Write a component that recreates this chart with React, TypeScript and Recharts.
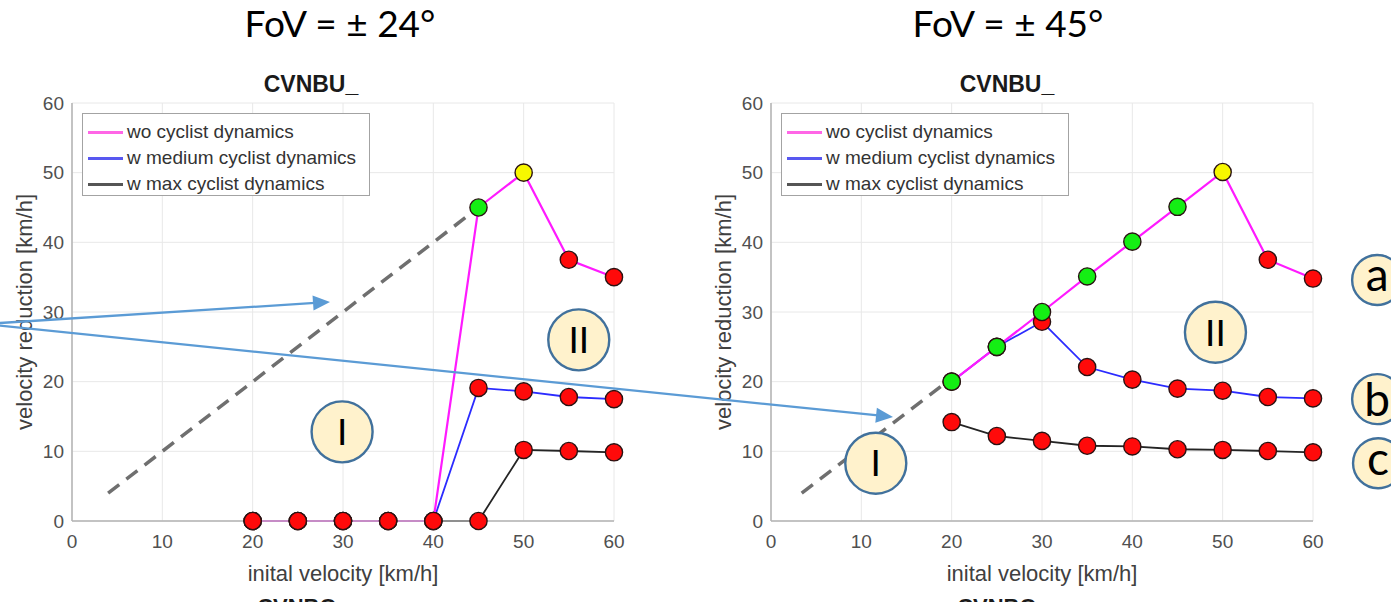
import React from 'react';
import { ComposedChart, Line, XAxis, YAxis, CartesianGrid, ReferenceLine, ReferenceDot } from 'recharts';

// ---------- data ----------
const velocities = [20, 25, 30, 35, 40, 45, 50, 55, 60];
const axisTicks = [0, 10, 20, 30, 40, 50, 60];
const seriesNames = ['wo cyclist dynamics', 'w medium cyclist dynamics', 'w max cyclist dynamics'];

// FoV = ± 24°
const wo24 = [0, 0, 0, 0, 0, 45, 50, 37.5, 35];
const med24 = [0, 0, 0, 0, 0, 19.1, 18.6, 17.8, 17.5];
const max24 = [0, 0, 0, 0, 0, 0, 10.2, 10.05, 9.86];
// outcome per point: C = collision, A = avoided, B = boundary
const wo24Outcome = ['C', 'C', 'C', 'C', 'C', 'A', 'B', 'C', 'C'];
const med24Outcome = ['C', 'C', 'C', 'C', 'C', 'C', 'C', 'C', 'C'];
const max24Outcome = ['C', 'C', 'C', 'C', 'C', 'C', 'C', 'C', 'C'];

// FoV = ± 45°
const wo45 = [20, 25, 30, 35.1, 40.1, 45.1, 50.1, 37.5, 34.8];
const med45 = [20, 25, 28.6, 22.1, 20.3, 19.0, 18.7, 17.8, 17.6];
const max45 = [14.2, 12.2, 11.5, 10.8, 10.7, 10.3, 10.2, 10.05, 9.86];
const wo45Outcome = ['A', 'A', 'A', 'A', 'A', 'A', 'B', 'C', 'C'];
const med45Outcome = ['C', 'C', 'C', 'C', 'C', 'C', 'C', 'C', 'C'];
const max45Outcome = ['C', 'C', 'C', 'C', 'C', 'C', 'C', 'C', 'C'];

// diagonal reference (dashed)
const diagonal24 = [{ x: 4, y: 4 }, { x: 44.2, y: 44.2 }];
const diagonal45 = [{ x: 3.4, y: 4 }, { x: 18.9, y: 19.4 }];

// region / curve annotations (data coords)
const notes24 = [
  { x: 29.9, y: 12.8, label: 'I', kind: 'region' },
  { x: 56.1, y: 26.0, label: 'II', kind: 'region' },
];
const notes45 = [
  { x: 11.6, y: 8.3, label: 'I', kind: 'region' },
  { x: 49.2, y: 27.1, label: 'II', kind: 'region' },
  { x: 67.1, y: 34.6, label: 'a', kind: 'curve' },
  { x: 67.1, y: 17.5, label: 'b', kind: 'curve' },
  { x: 67.2, y: 8.3, label: 'c', kind: 'curve' },
];

// ---------- styles ----------
const OUTCOME_COLOR: Record<string, string> = { C: '#ff0a0a', A: '#14ee14', B: '#f7f700' };
const NOTE_STYLE: Record<string, { r: number; fs: number }> = {
  region: { r: 30.5, fs: 37 },
  curve: { r: 25, fs: 46 },
};
const LINE_COLORS = { wo: '#ff1aff', med: '#2b2bff', max: '#242424' };
const LEGEND_COLORS = ['#ff66e6', '#5858f0', '#555555'];
const FONT = '"Liberation Sans", Arial, sans-serif';

function buildRows(wo: number[], med: number[], max: number[], woS: string[], medS: string[], maxS: string[]) {
  return velocities.map((v, i) => ({ v, wo: wo[i], med: med[i], max: max[i], woS: woS[i], medS: medS[i], maxS: maxS[i] }));
}

const rows24 = buildRows(wo24, med24, max24, wo24Outcome, med24Outcome, max24Outcome);
const rows45 = buildRows(wo45, med45, max45, wo45Outcome, med45Outcome, max45Outcome);

const makeDot = (key: string) => (props: any) => {
  const { cx, cy, index, payload } = props;
  if (cx == null || cy == null) return <g key={`${key}-e${index}`} />;
  return (
    <circle
      key={`${key}-${index}`}
      cx={cx}
      cy={cy}
      r={8.6}
      fill={OUTCOME_COLOR[payload[key]]}
      stroke="#2a1212"
      strokeWidth={1.4}
    />
  );
};

function noteShape(n: { label: string; kind: string }) {
  const st = NOTE_STYLE[n.kind];
  const k = n.label === 'a' || n.label === 'c' ? 0.25 : 0.36;
  return (p: any) => (
    <g>
      <circle cx={p.cx} cy={p.cy} r={st.r} fill="#FFF2CC" stroke="#41719C" strokeWidth={2.4} />
      <text
        x={p.cx}
        y={p.cy + st.fs * k}
        textAnchor="middle"
        fontFamily="Lato, sans-serif"
        fontSize={st.fs}
        fill="#000"
      >
        {n.label}
      </text>
    </g>
  );
}

function Panel({ left, width, rightMargin, rows, diagonal, notes }: any) {
  const tickStyle = { fontSize: 19, fill: '#505050', fontFamily: FONT };
  return (
    <div style={{ position: 'absolute', left, top: 0 }}>
      <ComposedChart width={width} height={602} data={rows} margin={{ top: 103, right: rightMargin, bottom: 0, left: 0 }}>
        <CartesianGrid stroke="#e8e8e8" strokeWidth={1} />
        <XAxis
          dataKey="v"
          type="number"
          domain={[0, 60]}
          ticks={axisTicks}
          interval={0}
          height={81}
          tickLine={false}
          tickMargin={8}
          axisLine={{ stroke: '#b3b3b3', strokeWidth: 1.5 }}
          tick={tickStyle}
        />
        <YAxis
          type="number"
          domain={[0, 60]}
          ticks={axisTicks}
          interval={0}
          width={72}
          tickLine={false}
          axisLine={{ stroke: '#b3b3b3', strokeWidth: 1.5 }}
          tick={tickStyle}
        />
        <ReferenceLine
          segment={diagonal}
          stroke="#6f6f6f"
          strokeWidth={3.5}
          strokeDasharray="14 9"
          ifOverflow="visible"
        />
        <Line dataKey="max" type="linear" stroke={LINE_COLORS.max} strokeWidth={1.8} dot={makeDot('maxS')} activeDot={false} isAnimationActive={false} />
        <Line dataKey="med" type="linear" stroke={LINE_COLORS.med} strokeWidth={1.8} dot={makeDot('medS')} activeDot={false} isAnimationActive={false} />
        <Line dataKey="wo" type="linear" stroke={LINE_COLORS.wo} strokeWidth={2.2} dot={makeDot('woS')} activeDot={false} isAnimationActive={false} />
        {notes.map((n: any, i: number) => (
          <ReferenceDot key={i} x={n.x} y={n.y} r={NOTE_STYLE[n.kind].r} ifOverflow="visible" shape={noteShape(n)} />
        ))}
      </ComposedChart>
    </div>
  );
}

function Legend({ left }: { left: number }) {
  return (
    <div
      style={{
        position: 'absolute',
        left,
        top: 113,
        width: 288,
        height: 83,
        border: '1px solid #a3a3a3',
        background: '#fff',
        boxSizing: 'border-box',
        fontFamily: FONT,
        fontSize: 19,
        color: '#333',
      }}
    >
      {seriesNames.map((name, i) => (
        <div key={name} style={{ position: 'absolute', left: 5, top: 5 + i * 26, height: 26, display: 'flex', alignItems: 'center', whiteSpace: 'nowrap' }}>
          <span style={{ display: 'inline-block', width: 35, height: 3, background: LEGEND_COLORS[i], marginRight: 4 }} />
          <span>{name}</span>
        </div>
      ))}
    </div>
  );
}

// arrows (annotation, page pixels)
const arrowOrigin = { x: -16, y: 324 };
const arrowTips = [{ x: 330, y: 302 }, { x: 893, y: 417 }];

function Arrow({ from, to }: any) {
  const dx = to.x - from.x, dy = to.y - from.y;
  const len = Math.hypot(dx, dy);
  const ux = dx / len, uy = dy / len;
  const L = 17, W = 7.5;
  const bx = to.x - ux * L, by = to.y - uy * L;
  const p1 = `${to.x},${to.y}`;
  const p2 = `${bx - uy * W},${by + ux * W}`;
  const p3 = `${bx + uy * W},${by - ux * W}`;
  return (
    <g>
      <line x1={from.x} y1={from.y} x2={bx + ux * 2} y2={by + uy * 2} stroke="#5b9bd5" strokeWidth={2.3} />
      <polygon points={`${p1} ${p2} ${p3}`} fill="#5b9bd5" />
    </g>
  );
}

export default function App() {
  const labelStyle = { fontFamily: FONT, fontSize: 22, fill: '#404040' };
  return (
    <div style={{ position: 'absolute', left: 0, top: 0, width: 1391, height: 602, overflow: 'hidden', background: '#fff', fontFamily: FONT }}>
      <Panel left={0} width={700} rightMargin={86} rows={rows24} diagonal={diagonal24} notes={notes24} />
      <Panel left={699} width={692} rightMargin={78} rows={rows45} diagonal={diagonal45} notes={notes45} />
      <svg width={1391} height={602} style={{ position: 'absolute', left: 0, top: 0, pointerEvents: 'none' }}>
        <text x={340} y={37} textAnchor="middle" fontFamily="Lato, sans-serif" fontSize={37} fill="#000">FoV = ± 24°</text>
        <text x={1008} y={37} textAnchor="middle" fontFamily="Lato, sans-serif" fontSize={37} fill="#000">FoV = ± 45°</text>
        <text x={311} y={92} textAnchor="middle" fontFamily={FONT} fontWeight="bold" fontSize={23} fill="#1a1a1a">CVNBU_</text>
        <text x={1007} y={92} textAnchor="middle" fontFamily={FONT} fontWeight="bold" fontSize={23} fill="#1a1a1a">CVNBU_</text>
        <text x={303} y={614} textAnchor="middle" fontFamily={FONT} fontWeight="bold" fontSize={22} fill="#1a1a1a">CVNBO_</text>
        <text x={1003} y={614} textAnchor="middle" fontFamily={FONT} fontWeight="bold" fontSize={22} fill="#1a1a1a">CVNBO_</text>
        <text x={343} y={581} textAnchor="middle" {...labelStyle}>inital velocity [km/h]</text>
        <text x={1042} y={581} textAnchor="middle" {...labelStyle}>inital velocity [km/h]</text>
        <text transform="translate(32,312) rotate(-90)" textAnchor="middle" {...labelStyle}>velocity reduction [km/h]</text>
        <text transform="translate(731,312) rotate(-90)" textAnchor="middle" {...labelStyle}>velocity reduction [km/h]</text>
        {arrowTips.map((t, i) => (
          <Arrow key={i} from={arrowOrigin} to={t} />
        ))}
      </svg>
      <Legend left={82} />
      <Legend left={781} />
    </div>
  );
}
